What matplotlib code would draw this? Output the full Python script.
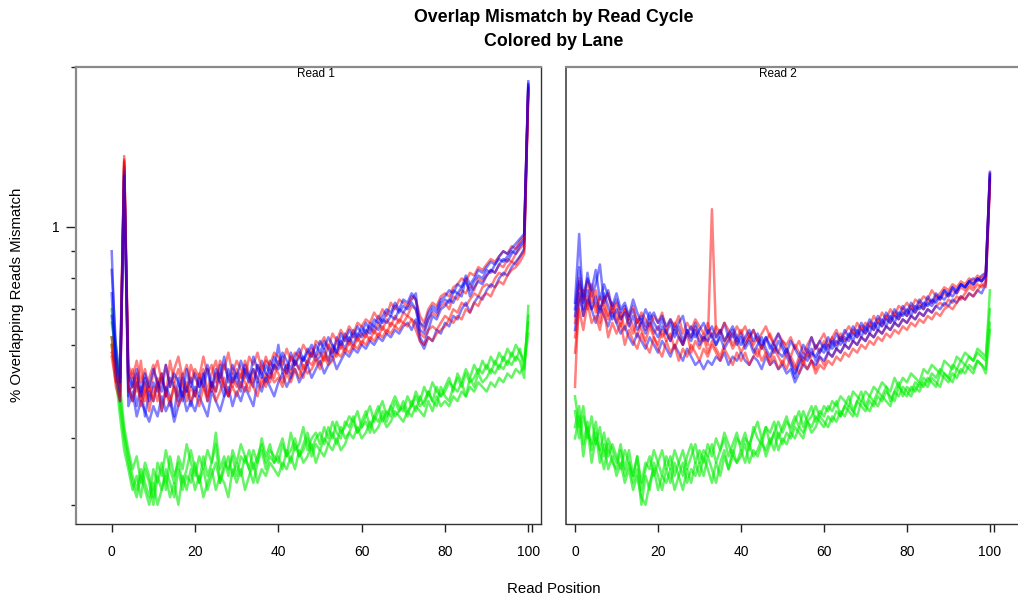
import matplotlib
matplotlib.use('Agg')
import matplotlib.pyplot as plt
from matplotlib.ticker import NullFormatter
import matplotlib.transforms as mtrans

plt.rcParams['font.family'] = ['Liberation Sans', 'DejaVu Sans']

# read cycle (x) for every line
cycle = list(range(101))

# % overlapping reads mismatch, stored in hundredths (45 -> 0.45)
# ---- Read 1 ----
r1_red = [
    [62, 53, 50, 136, 51, 54, 49, 56, 47, 52, 55, 50, 53, 48, 56, 51, 54, 50, 49, 55,
     52, 50, 54, 49, 53, 56, 51, 55, 52, 50, 54, 52, 56, 53, 51, 55, 53, 57, 54, 52,
     56, 54, 53, 57, 55, 58, 54, 56, 59, 57, 58, 56, 60, 58, 61, 59, 62, 60, 63, 61,
     63, 62, 65, 63, 66, 64, 67, 65, 68, 66, 69, 68, 71, 70, 66, 64, 67, 69, 68, 71,
     72, 70, 74, 73, 76, 75, 78, 76, 80, 79, 81, 83, 82, 85, 84, 87, 86, 89, 91, 93, 182],
    [58, 55, 48, 132, 49, 50, 53, 47, 51, 45, 50, 47, 52, 49, 46, 51, 48, 52, 47, 50,
     48, 53, 50, 47, 51, 49, 53, 50, 48, 52, 50, 53, 51, 49, 54, 52, 50, 53, 51, 55,
     53, 51, 55, 53, 56, 54, 52, 56, 55, 57, 55, 58, 56, 59, 57, 60, 58, 61, 59, 62,
     60, 63, 61, 64, 62, 65, 63, 66, 65, 67, 66, 68, 67, 66, 63, 62, 64, 65, 64, 66,
     68, 67, 70, 69, 72, 71, 73, 75, 74, 77, 78, 77, 80, 82, 81, 84, 86, 85, 88, 90, 180],
    [57, 51, 53, 134, 55, 52, 56, 51, 54, 49, 53, 56, 51, 55, 50, 54, 57, 52, 55, 51,
     54, 52, 57, 53, 55, 51, 56, 54, 58, 53, 56, 54, 52, 57, 55, 58, 54, 56, 55, 58,
     57, 55, 59, 56, 58, 57, 60, 58, 57, 61, 60, 62, 59, 63, 61, 64, 62, 65, 63, 66,
     65, 67, 66, 69, 67, 70, 68, 72, 70, 73, 72, 71, 74, 73, 68, 66, 70, 72, 71, 74,
     75, 74, 77, 78, 80, 79, 82, 81, 84, 83, 85, 87, 86, 88, 90, 89, 92, 91, 94, 96, 184],
    [60, 50, 47, 133, 50, 47, 52, 46, 49, 50, 47, 52, 45, 49, 47, 50, 46, 48, 51, 47,
     49, 46, 50, 48, 51, 47, 49, 52, 48, 50, 48, 51, 49, 52, 50, 48, 52, 50, 53, 51,
     52, 50, 53, 51, 54, 52, 55, 53, 54, 56, 54, 57, 55, 56, 58, 57, 59, 58, 60, 59,
     61, 60, 62, 61, 63, 62, 64, 63, 65, 64, 66, 65, 67, 64, 61, 60, 62, 61, 63, 64,
     65, 67, 66, 68, 67, 70, 69, 72, 71, 74, 75, 74, 77, 79, 78, 81, 83, 84, 86, 89, 178],
]
r1_blue = [
    [90, 55, 49, 128, 48, 52, 46, 50, 44, 49, 47, 51, 45, 50, 48, 44, 52, 47, 50, 46,
     50, 48, 53, 47, 51, 49, 55, 50, 48, 53, 51, 49, 54, 52, 50, 55, 53, 51, 56, 54,
     60, 53, 55, 52, 56, 54, 57, 55, 58, 56, 57, 59, 56, 60, 58, 61, 59, 62, 60, 63,
     62, 64, 63, 65, 64, 67, 66, 68, 67, 70, 69, 71, 73, 75, 62, 60, 64, 68, 67, 70,
     71, 73, 72, 75, 74, 80, 74, 77, 79, 78, 81, 83, 82, 85, 87, 86, 89, 91, 93, 95, 186],
    [83, 60, 52, 130, 50, 47, 51, 48, 52, 47, 51, 49, 53, 48, 52, 50, 47, 53, 49, 52,
     48, 52, 50, 54, 49, 53, 51, 48, 54, 51, 53, 50, 55, 52, 54, 51, 56, 53, 52, 55,
     54, 57, 53, 58, 55, 57, 56, 59, 57, 60, 58, 61, 59, 57, 62, 60, 63, 61, 64, 62,
     65, 63, 66, 65, 68, 66, 69, 68, 71, 69, 71, 70, 72, 70, 64, 63, 67, 70, 69, 72,
     73, 72, 76, 75, 77, 79, 76, 79, 81, 80, 83, 82, 85, 87, 86, 88, 90, 89, 92, 94, 185],
    [75, 52, 47, 127, 46, 49, 44, 47, 45, 43, 46, 44, 48, 45, 47, 43, 46, 49, 45, 47,
     45, 48, 46, 44, 49, 47, 45, 48, 50, 46, 49, 47, 50, 48, 46, 51, 49, 52, 50, 48,
     51, 53, 50, 52, 54, 51, 53, 55, 52, 54, 56, 53, 55, 57, 54, 56, 58, 57, 59, 58,
     60, 59, 61, 60, 62, 61, 63, 62, 64, 63, 65, 66, 64, 67, 61, 59, 62, 61, 64, 63,
     66, 65, 68, 67, 70, 72, 69, 72, 74, 73, 76, 78, 77, 80, 82, 81, 84, 86, 88, 91, 183],
    [68, 57, 51, 125, 53, 50, 54, 49, 53, 50, 54, 51, 49, 55, 50, 53, 51, 48, 54, 50,
     53, 50, 52, 55, 50, 54, 52, 57, 51, 55, 52, 56, 53, 51, 57, 54, 52, 55, 53, 57,
     55, 58, 56, 54, 57, 59, 56, 58, 60, 57, 61, 59, 62, 60, 58, 63, 61, 64, 62, 65,
     63, 66, 64, 67, 66, 68, 70, 69, 72, 70, 73, 72, 75, 73, 66, 65, 69, 71, 70, 73,
     74, 76, 75, 78, 77, 81, 78, 80, 83, 82, 84, 86, 85, 88, 90, 89, 91, 93, 95, 97, 188],
]
r1_green = [
    [70, 60, 50, 42, 38, 35, 37, 33, 36, 34, 31, 36, 34, 38, 35, 33, 37, 35, 39, 36,
     34, 37, 35, 38, 36, 41, 35, 37, 34, 38, 36, 39, 37, 35, 38, 36, 40, 37, 39, 36,
     38, 40, 37, 41, 38, 39, 42, 38, 40, 41, 39, 42, 40, 43, 41, 40, 43, 42, 44, 41,
     43, 45, 42, 44, 46, 43, 45, 44, 47, 45, 46, 44, 47, 45, 48, 46, 49, 47, 46, 50,
     48, 47, 50, 49, 51, 48, 52, 50, 53, 51, 52, 54, 53, 55, 54, 56, 55, 57, 56, 52, 71],
    [62, 55, 46, 40, 36, 33, 31, 34, 32, 30, 33, 30, 32, 34, 31, 33, 30, 34, 32, 35,
     32, 34, 31, 33, 35, 32, 34, 33, 31, 35, 33, 35, 32, 34, 36, 33, 35, 34, 36, 35,
     34, 36, 35, 37, 35, 38, 36, 37, 39, 36, 38, 37, 39, 38, 40, 38, 39, 41, 40, 42,
     40, 41, 43, 41, 42, 44, 42, 43, 45, 44, 43, 45, 44, 46, 45, 44, 47, 45, 48, 46,
     47, 46, 48, 47, 49, 48, 50, 49, 51, 50, 49, 51, 50, 52, 51, 53, 52, 54, 53, 55, 63],
    [66, 58, 48, 41, 37, 34, 32, 35, 33, 31, 35, 33, 36, 32, 37, 34, 36, 33, 35, 38,
     35, 33, 37, 34, 36, 39, 33, 36, 35, 37, 34, 37, 36, 38, 35, 37, 39, 36, 38, 37,
     36, 39, 37, 38, 40, 37, 39, 41, 38, 40, 41, 39, 42, 40, 43, 41, 42, 44, 43, 45,
     42, 44, 46, 43, 45, 47, 44, 46, 48, 46, 45, 48, 46, 49, 47, 50, 48, 51, 49, 48,
     50, 52, 49, 53, 51, 54, 52, 55, 53, 56, 54, 57, 55, 58, 56, 59, 57, 60, 58, 56, 66],
    [60, 52, 44, 38, 35, 32, 34, 31, 35, 33, 30, 34, 32, 35, 33, 31, 35, 32, 34, 33,
     36, 33, 35, 32, 34, 36, 33, 35, 37, 34, 36, 34, 37, 35, 33, 36, 38, 35, 37, 36,
     37, 35, 38, 36, 39, 37, 38, 40, 37, 39, 38, 40, 39, 41, 39, 42, 40, 41, 43, 41,
     42, 43, 41, 44, 43, 45, 43, 46, 44, 45, 47, 45, 46, 48, 46, 47, 49, 47, 50, 48,
     49, 51, 50, 52, 50, 53, 51, 52, 54, 53, 55, 53, 56, 54, 57, 55, 58, 56, 59, 54, 68],
]

# ---- Read 2 ----
r2_red = [
    [50, 78, 68, 74, 70, 72, 66, 74, 68, 70, 66, 69, 64, 68, 65, 62, 67, 64, 66, 63,
     65, 62, 64, 61, 66, 63, 60, 64, 62, 65, 61, 63, 60, 108, 62, 64, 61, 63, 60, 62,
     64, 61, 63, 60, 62, 59, 61, 63, 60, 58, 61, 59, 57, 60, 58, 56, 59, 57, 60, 58,
     61, 59, 62, 60, 63, 61, 62, 64, 62, 65, 63, 66, 64, 67, 65, 68, 66, 69, 67, 70,
     68, 71, 69, 72, 70, 73, 72, 74, 73, 75, 74, 76, 75, 77, 76, 78, 77, 80, 79, 81, 124],
    [62, 72, 76, 70, 78, 69, 74, 71, 67, 72, 68, 65, 70, 66, 63, 67, 64, 61, 65, 62,
     60, 64, 61, 63, 59, 62, 60, 63, 58, 61, 59, 62, 58, 61, 59, 57, 60, 62, 59, 61,
     58, 60, 62, 59, 57, 60, 58, 56, 59, 57, 55, 58, 56, 54, 57, 55, 58, 56, 54, 57,
     55, 58, 57, 59, 58, 60, 59, 61, 60, 62, 61, 63, 62, 64, 63, 65, 64, 66, 65, 67,
     66, 68, 67, 69, 68, 70, 69, 71, 72, 71, 73, 72, 74, 73, 75, 77, 76, 78, 77, 79, 122],
    [66, 80, 73, 79, 72, 76, 70, 73, 75, 69, 72, 67, 70, 68, 71, 66, 69, 67, 65, 68,
     66, 69, 64, 67, 65, 68, 63, 66, 64, 67, 65, 63, 66, 62, 65, 63, 66, 64, 62, 65,
     63, 65, 62, 64, 61, 63, 65, 62, 60, 63, 61, 60, 62, 59, 61, 58, 60, 62, 59, 61,
     63, 60, 62, 64, 61, 63, 65, 63, 66, 64, 66, 65, 68, 66, 69, 67, 70, 68, 71, 70,
     72, 70, 73, 72, 74, 73, 76, 74, 75, 77, 76, 78, 77, 79, 78, 80, 79, 81, 80, 82, 126],
    [58, 70, 64, 72, 66, 68, 64, 70, 62, 66, 63, 66, 60, 64, 61, 59, 63, 60, 58, 62,
     59, 57, 61, 58, 60, 56, 59, 57, 60, 58, 56, 59, 57, 60, 58, 56, 59, 57, 55, 58,
     56, 58, 55, 57, 59, 56, 58, 55, 57, 54, 56, 54, 57, 55, 53, 56, 54, 56, 53, 55,
     54, 56, 55, 57, 56, 58, 57, 59, 58, 60, 59, 61, 60, 62, 61, 63, 62, 64, 63, 65,
     64, 66, 65, 67, 66, 68, 67, 69, 68, 70, 71, 70, 72, 74, 73, 75, 74, 76, 78, 77, 121],
]
r2_blue = [
    [72, 97, 70, 82, 74, 78, 85, 72, 76, 70, 73, 69, 71, 67, 70, 66, 68, 65, 69, 66,
     64, 67, 63, 66, 62, 65, 61, 64, 62, 66, 63, 61, 64, 62, 60, 63, 66, 62, 64, 61,
     63, 60, 62, 64, 61, 59, 62, 60, 58, 61, 59, 57, 55, 52, 56, 58, 57, 59, 56, 58,
     60, 58, 61, 59, 62, 60, 63, 61, 64, 62, 65, 63, 66, 64, 67, 65, 68, 66, 69, 68,
     70, 68, 71, 70, 72, 71, 73, 72, 74, 76, 75, 77, 76, 78, 77, 79, 80, 79, 81, 82, 127],
    [64, 75, 68, 73, 70, 66, 71, 68, 65, 69, 66, 63, 65, 62, 60, 63, 61, 59, 62, 60,
     58, 61, 59, 57, 60, 58, 56, 59, 57, 55, 56, 54, 56, 55, 57, 56, 58, 55, 57, 56,
     58, 56, 55, 57, 56, 54, 57, 55, 56, 54, 55, 53, 54, 51, 53, 55, 54, 56, 55, 57,
     56, 58, 57, 59, 58, 60, 59, 61, 60, 62, 61, 63, 62, 64, 63, 65, 64, 66, 65, 67,
     66, 68, 67, 69, 68, 70, 69, 71, 70, 72, 71, 73, 72, 74, 73, 75, 74, 76, 75, 78, 123],
    [70, 84, 74, 80, 76, 83, 73, 78, 74, 71, 75, 70, 72, 68, 73, 69, 66, 70, 67, 69,
     66, 68, 65, 67, 64, 66, 68, 63, 65, 62, 64, 66, 63, 65, 62, 64, 61, 63, 65, 62,
     60, 62, 64, 61, 63, 60, 62, 59, 61, 63, 60, 58, 61, 59, 57, 60, 58, 62, 59, 61,
     59, 62, 60, 63, 61, 64, 62, 65, 63, 66, 64, 67, 65, 68, 66, 69, 67, 70, 68, 71,
     69, 72, 70, 73, 71, 74, 72, 75, 73, 76, 74, 77, 75, 78, 77, 79, 78, 80, 79, 81, 126],
    [68, 79, 72, 76, 70, 74, 69, 75, 71, 67, 70, 67, 69, 65, 68, 64, 66, 63, 67, 64,
     62, 65, 63, 61, 64, 62, 60, 63, 61, 64, 60, 62, 61, 63, 60, 62, 59, 61, 63, 60,
     62, 59, 61, 58, 60, 62, 59, 57, 60, 58, 57, 59, 56, 53, 55, 57, 56, 58, 57, 59,
     58, 60, 59, 61, 60, 62, 61, 63, 62, 64, 63, 65, 64, 66, 65, 67, 66, 68, 67, 69,
     68, 70, 69, 71, 70, 72, 71, 73, 74, 73, 75, 74, 76, 78, 77, 79, 78, 80, 79, 81, 125],
]
r2_green = [
    [48, 42, 46, 40, 44, 39, 42, 37, 40, 38, 36, 39, 35, 38, 34, 37, 33, 36, 35, 38,
     36, 34, 37, 35, 38, 36, 34, 37, 39, 36, 38, 36, 39, 37, 40, 38, 41, 39, 37, 40,
     39, 41, 38, 42, 40, 39, 42, 41, 43, 40, 42, 44, 41, 43, 45, 42, 44, 46, 43, 45,
     44, 46, 45, 47, 44, 46, 48, 45, 47, 49, 46, 48, 47, 49, 48, 50, 47, 49, 51, 48,
     50, 49, 51, 50, 52, 51, 53, 52, 54, 53, 52, 55, 54, 56, 55, 57, 56, 58, 57, 56, 76],
    [42, 46, 39, 43, 38, 41, 36, 39, 35, 37, 34, 36, 33, 35, 32, 34, 31, 30, 33, 35,
     32, 34, 33, 35, 32, 34, 36, 33, 35, 34, 36, 34, 37, 35, 33, 36, 38, 35, 37, 36,
     38, 36, 39, 37, 38, 40, 37, 39, 41, 38, 40, 39, 41, 40, 42, 41, 43, 42, 44, 43,
     42, 44, 43, 45, 44, 46, 45, 44, 47, 46, 45, 47, 46, 48, 47, 49, 48, 47, 50, 49,
     48, 50, 49, 51, 50, 52, 51, 50, 53, 52, 51, 53, 52, 54, 53, 55, 54, 56, 55, 53, 64],
    [45, 40, 44, 41, 39, 43, 38, 41, 37, 39, 37, 35, 38, 36, 34, 37, 32, 35, 37, 34,
     36, 38, 35, 37, 34, 36, 38, 35, 37, 39, 36, 38, 37, 39, 36, 38, 40, 37, 39, 41,
     38, 40, 39, 41, 43, 40, 42, 39, 41, 43, 41, 43, 42, 44, 42, 45, 43, 44, 46, 44,
     46, 45, 47, 46, 48, 47, 46, 49, 48, 47, 49, 48, 50, 49, 51, 50, 49, 52, 50, 52,
     51, 53, 52, 51, 54, 53, 55, 54, 53, 56, 55, 54, 57, 56, 58, 57, 56, 59, 58, 57, 70],
    [40, 44, 37, 42, 36, 40, 38, 35, 39, 36, 35, 38, 34, 36, 33, 35, 30, 34, 32, 36,
     34, 32, 35, 33, 36, 34, 32, 35, 33, 36, 34, 37, 35, 33, 36, 34, 37, 35, 38, 36,
     37, 39, 36, 38, 37, 39, 38, 40, 38, 41, 39, 41, 40, 42, 41, 40, 43, 41, 42, 44,
     43, 42, 44, 43, 45, 44, 46, 45, 44, 47, 46, 45, 47, 46, 48, 47, 46, 49, 48, 50,
     49, 48, 50, 49, 51, 50, 52, 51, 50, 53, 52, 51, 54, 53, 55, 54, 53, 56, 55, 54, 66],
]

panel_titles = ['Read 1', 'Read 2']
xtick_vals = [0, 20, 40, 60, 80, 100, 101]
xtick_labs = ['0', '20', '40', '60', '80', '100', '']

fig = plt.figure(figsize=(10.18, 5.96), dpi=100)
# second panel runs past the right edge of the picture, as in the original
ax1 = fig.add_axes([76/1018, 72/596, 465/1018, 457/596])
ax2 = fig.add_axes([566/1018, 72/596, 465/1018, 457/596])

panels = [(ax1, r1_red, r1_blue, r1_green), (ax2, r2_red, r2_blue, r2_green)]
for ax, reds, blues, greens in panels:
    for ys in greens:
        ax.plot(cycle, [v/100. for v in ys], color='#00ee00', alpha=0.6, lw=1.8, zorder=1)
    for rs, bs in zip(reds, blues):
        ax.plot(cycle, [v/100. for v in rs], color='#ff0000', alpha=0.5, lw=1.8, zorder=2)
        ax.plot(cycle, [v/100. for v in bs], color='#0000ff', alpha=0.5, lw=1.8, zorder=2)

    ax.set_yscale('log')
    ax.set_ylim(0.276, 2.0)
    ax.set_xticks(xtick_vals, xtick_labs)
    ax.tick_params(axis='x', direction='out', length=6, width=1, pad=9,
                   labelsize=10, color='#222222')
    for s in ['top', 'left']:
        ax.spines[s].set_color('#8a8a8a')
        ax.spines[s].set_linewidth(1.6)
    for s in ['right', 'bottom']:
        ax.spines[s].set_color('#333333')
        ax.spines[s].set_linewidth(1.0)

ax1.set_xlim(-8.57, 103.05)
ax2.set_xlim(-2.17, 109.9)
ax2.spines['left'].set_color('#444444')
ax2.spines['left'].set_linewidth(1.2)

ax1.set_yticks([1], ['1'])
ax1.set_yticks([0.3, 0.4, 0.5, 0.6, 0.7, 0.8, 0.9, 2], minor=True)
ax1.yaxis.set_minor_formatter(NullFormatter())
ax1.tick_params(axis='y', which='major', direction='out', length=7, width=1,
                pad=5, labelsize=10, color='#222222')
ax1.tick_params(axis='y', which='minor', direction='out', length=3.5, width=1,
                color='#222222')

ax2.set_yticks([])
ax2.set_yticks([], minor=True)

for ax, t in zip([ax1, ax2], panel_titles):
    tr = mtrans.blended_transform_factory(ax.transData, ax.transAxes)
    ax.text(49, 0.985, t, transform=tr, ha='center', va='center', fontsize=8.5)

fig.text(554/1018, 1 - 18/596, 'Overlap Mismatch by Read Cycle', ha='center',
         va='center', fontsize=12.8, fontweight='bold')
fig.text(554/1018, 1 - 41/596, 'Colored by Lane', ha='center',
         va='center', fontsize=12.8, fontweight='bold')
fig.text(554/1018, 1 - 589/596, 'Read Position', ha='center', va='center', fontsize=10.8)
fig.text(17/1018, 1 - 295/596, '% Overlapping Reads Mismatch', ha='center',
         va='center', rotation=90, fontsize=10.8)

fig.savefig('out.png', dpi=100)
